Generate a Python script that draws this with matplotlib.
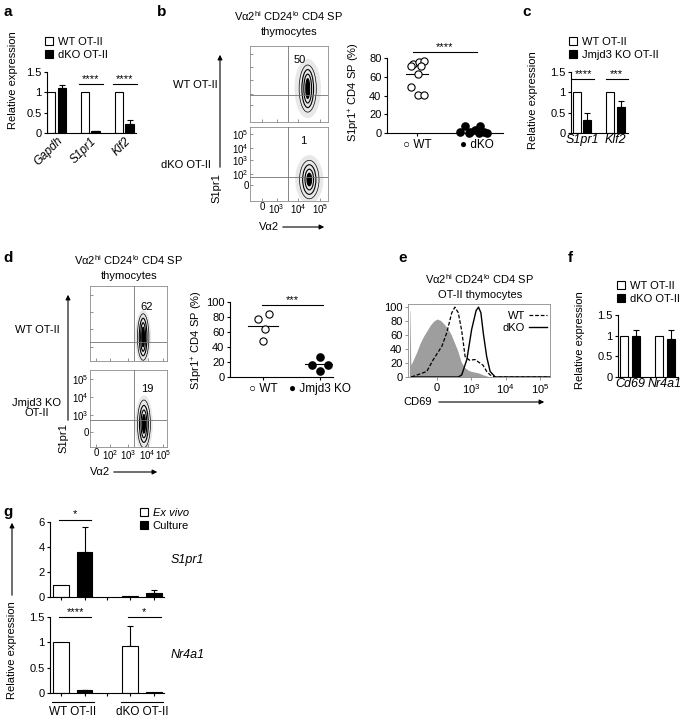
import numpy as np
import matplotlib
matplotlib.use("Agg")
import matplotlib.pyplot as plt
from matplotlib.patches import Patch, Ellipse
from matplotlib.lines import Line2D

plt.rcParams["font.family"] = ["Liberation Sans", "DejaVu Sans"]
plt.rcParams["mathtext.fontset"] = "custom"
plt.rcParams["mathtext.rm"] = "Liberation Sans"
plt.rcParams["mathtext.it"] = "Liberation Sans:italic"
plt.rcParams["font.size"] = 8
plt.rcParams["axes.linewidth"] = 0.8
for k in ["xtick", "ytick"]:
    plt.rcParams[k + ".major.width"] = 0.8
    plt.rcParams[k + ".major.size"] = 2.5
    plt.rcParams[k + ".major.pad"] = 1.5
    plt.rcParams[k + ".labelsize"] = 8

# ---------------- data ----------------
# a: relative expression, WT vs dKO OT-II
a_genes = ["Gapdh", "S1pr1", "Klf2"]
a_wt = [1.0, 1.0, 1.0]
a_dko = [1.10, 0.04, 0.22]
a_dko_err = [0.08, 0.01, 0.09]
a_stars = ["", "****", "****"]

# b: flow gates and % S1pr1+ CD4 SP
b_rows = ["WT OT-II", "dKO OT-II"]
b_gate_pct = ["50", "1"]
b_wt = [74, 76, 77, 71, 71, 63, 49, 41, 41]
b_wt_jit = [-4, 2, 7, -6, 4, 1, -6, 1, 7]
b_dko = [1, 7, 1, 3, 7, 1, 0, 0, 0]
b_dko_jit = [-17, -12, -7, -2, 3, 7, 10, -8, 2]
b_stars = "****"

# c: relative expression, WT vs Jmjd3 KO OT-II
c_genes = ["S1pr1", "Klf2"]
c_wt = [1.0, 1.0]
c_ko = [0.33, 0.65]
c_ko_err = [0.15, 0.13]
c_stars = ["****", "***"]

# d: flow gates and % S1pr1+ CD4 SP
d_rows = ["WT OT-II", "Jmjd3 KO\nOT-II"]
d_gate_pct = ["62", "19"]
d_wt = [78, 84, 64, 48]
d_wt_jit = [-5, 6, 2, 0]
d_ko = [27, 16, 16, 8]
d_ko_jit = [0, -8, 8, 0]
d_stars = "***"

# e: CD69 histograms, x in display decades (0 -> "0", 1 -> 10^3, 2 -> 10^4, 3 -> 10^5)
e_iso_x = [-0.81, -0.80, -0.79, -0.77, -0.74, -0.6, -0.5, -0.4, -0.3, -0.2, -0.1, 0.0,
           0.1, 0.2, 0.3, 0.4, 0.5, 0.6, 0.7, 0.8, 0.9, 1.0, 1.2, 1.35, 1.55, 3.3]
e_iso_y = [0, 95, 95, 18, 20, 35, 48, 58, 66, 74, 80, 83,
           81, 76, 70, 62, 50, 38, 22, 14, 10, 8, 6, 3, 0, 0]
e_wt_x = [-0.75, -0.69, -0.30, -0.11, 0.14, 0.28, 0.43, 0.52, 0.62, 0.72, 0.82,
          0.95, 1.11, 1.25, 1.34, 1.45, 1.55, 1.69, 3.3]
e_wt_y = [0, 1, 8, 25, 44, 63, 92, 100, 92, 66, 29, 24, 25, 20, 17, 8, 3, 0, 0]
e_dko_x = [-0.75, 0.62, 0.72, 0.87, 1.01, 1.14, 1.21, 1.28, 1.35, 1.45, 1.55, 1.70, 3.3]
e_dko_y = [0, 0, 3, 25, 68, 95, 100, 92, 63, 29, 8, 0, 0]
e_ticks = ["0", "$10^3$", "$10^4$", "$10^5$"]

# f: relative expression, WT vs dKO OT-II
f_genes = ["Cd69", "Nr4a1"]
f_wt = [1.0, 1.0]
f_dko = [0.98, 0.92]
f_dko_err = [0.15, 0.22]

# g: ex vivo vs culture
g_groups = ["WT OT-II", "dKO OT-II"]
g_s1_exvivo = [1.0, 0.05]
g_s1_exvivo_err = [0.0, 0.0]
g_s1_culture = [3.6, 0.35]
g_s1_culture_err = [2.0, 0.2]
g_nr_exvivo = [1.0, 0.93]
g_nr_exvivo_err = [0.0, 0.40]
g_nr_culture = [0.05, 0.01]
g_nr_culture_err = [0.01, 0.0]

# ---------------- layout helpers ----------------
W, H = 685, 718
fig = plt.figure(figsize=(W / 100, H / 100), dpi=100)


def rect(l, t, r, b):
    return [l / W, 1 - b / H, (r - l) / W, (b - t) / H]


def ftext(x, y, s, **kw):
    kw.setdefault("ha", "center")
    kw.setdefault("va", "center")
    fig.text(x / W, 1 - y / H, s, **kw)


def farrow(x0, y0, x1, y1):
    fig.add_artist(matplotlib.patches.FancyArrowPatch(
        (x0 / W, 1 - y0 / H), (x1 / W, 1 - y1 / H), transform=fig.transFigure,
        arrowstyle="-|>", mutation_scale=7, lw=0.8, color="black"))


def clean(ax):
    ax.spines["top"].set_visible(False)
    ax.spines["right"].set_visible(False)


def bars(ax, x, vals, errs, color, width):
    ax.bar(x, vals, width, color=color, edgecolor="black", linewidth=0.8, zorder=2)
    errs = np.asarray(errs, dtype=float)
    keep = errs > 0
    if keep.any():
        ax.errorbar(np.asarray(x)[keep], np.asarray(vals)[keep],
                    yerr=[np.zeros(keep.sum()), errs[keep]], fmt="none",
                    ecolor="black", elinewidth=0.8, capsize=2, capthick=0.8, zorder=1)


def sig(ax, x0, x1, y, s):
    ax.plot([x0, x1], [y, y], color="black", lw=0.8, clip_on=False)
    ax.text((x0 + x1) / 2, y, s, ha="center", va="bottom", fontsize=8)


def bar_legend(ax, labels, x, y, italic=(False, False)):
    h = [Patch(facecolor="white", edgecolor="black", lw=0.8),
         Patch(facecolor="black", edgecolor="black", lw=0.8)]
    leg = ax.legend(h, labels, loc="upper left", bbox_to_anchor=(x / W, 1 - y / H),
                    bbox_transform=fig.transFigure, frameon=False, handlelength=0.75,
                    handleheight=0.75, handletextpad=0.4, labelspacing=0.25,
                    borderpad=0, borderaxespad=0, fontsize=8)
    for t, it in zip(leg.get_texts(), italic):
        if it:
            t.set_style("italic")


def expr_axes(r, ylim, yticks, ylabels):
    ax = fig.add_axes(rect(*r))
    clean(ax)
    ax.set_ylim(*ylim)
    ax.set_yticks(yticks)
    ax.set_yticklabels(ylabels)
    return ax


def flow_box(r, gx, gy, pct, pxy, center, sizes, cloud, xt, xtl, yt, ytl):
    ax = fig.add_axes(rect(*r))
    ax.set_xlim(0, 1)
    ax.set_ylim(0, 1)
    for s in ax.spines.values():
        s.set_color("0.55")
        s.set_linewidth(0.6)
    ax.add_patch(Ellipse(center, cloud[0], cloud[1], facecolor="0.85", edgecolor="none",
                         alpha=0.6, zorder=1))
    n = len(sizes)
    for i, (w, h) in enumerate(sizes):
        last = i == n - 1
        ax.add_patch(Ellipse(center, w, h, facecolor="black" if last else "none",
                             edgecolor="black", lw=0.5 if i == 0 else 0.8, zorder=2))
    ax.axvline(gx, color="0.45", lw=0.6, zorder=3)
    ax.axhline(gy, color="0.45", lw=0.6, zorder=3)
    ax.text(pxy[0], pxy[1], pct, ha="center", va="center", fontsize=8)
    ax.set_xticks(xt)
    ax.set_yticks(yt)
    ax.tick_params(direction="in", length=2, width=0.5, color="0.4", labelsize=7, pad=1)
    ax.set_xticklabels(xtl)
    ax.set_yticklabels(ytl)
    return ax


lab = dict(fontsize=11, fontweight="bold", ha="left", va="center")
ftext(3, 12, "a", **lab)
ftext(157, 12, "b", **lab)
ftext(522, 12, "c", **lab)
ftext(3, 258, "d", **lab)
ftext(398, 258, "e", **lab)
ftext(568, 258, "f", **lab)
ftext(3, 512, "g", **lab)

e_title1 = "V\u03b12$^{\\mathrm{hi}}$ CD24$^{\\mathrm{lo}}$ CD4 SP"

# ---------------- a ----------------
ax = expr_axes((47, 72, 136, 133), (0, 1.5), [0, 0.5, 1, 1.5], ["0", "0.5", "1", "1.5"])
xa = np.arange(len(a_genes))
bars(ax, xa - 0.15, a_wt, [0] * 3, "white", 0.24)
bars(ax, xa + 0.15, a_dko, a_dko_err, "black", 0.24)
ax.set_xlim(-0.28, 2.34)
ax.set_xticks(xa)
ax.set_xticklabels(a_genes, rotation=45, ha="right", rotation_mode="anchor", style="italic",
                   fontsize=8.5)
ax.tick_params(axis="x", length=0)
for i, s in enumerate(a_stars):
    if s:
        sig(ax, i - 0.33, i + 0.36, 1.2, s)
bar_legend(ax, ["WT OT-II", "dKO OT-II"], 45, 37)
ftext(13, 80, "Relative expression", rotation=90)

# ---------------- b flow ----------------
ftext(289, 16, e_title1)
ftext(289, 32, "thymocytes")
b_xt = [0.16, 0.34, 0.62, 0.90]
b_xtl = ["0", "$10^3$", "$10^4$", "$10^5$"]
b_yt = [0.22, 0.37, 0.55, 0.72, 0.90]
b_ytl = ["0", "$10^2$", "$10^3$", "$10^4$", "$10^5$"]
flow_box((250, 46, 328, 122), 0.49, 0.36, b_gate_pct[0], (0.64, 0.82), (0.74, 0.44),
         [(0.22, 0.62), (0.15, 0.50), (0.10, 0.38), (0.05, 0.26)],
         (0.34, 0.78), b_xt, [], b_yt, [])
flow_box((250, 127, 328, 201), 0.49, 0.33, b_gate_pct[1], (0.68, 0.81), (0.76, 0.29),
         [(0.25, 0.52), (0.17, 0.40), (0.11, 0.28), (0.06, 0.17)],
         (0.36, 0.66), b_xt, b_xtl, b_yt, b_ytl)
ftext(195, 85, b_rows[0], fontsize=8)
ftext(186, 165, b_rows[1], fontsize=8)
farrow(220, 170, 220, 52)
ftext(216, 188, "S1pr1", rotation=90)
ftext(269, 227, "V\u03b12")
farrow(280, 227, 327, 227)

# ---------------- b scatter ----------------
ax = expr_axes((387, 58, 503, 133), (0, 80), [0, 20, 40, 60, 80], ["0", "20", "40", "60", "80"])
ax.set_xlim(-0.5, 1.43)
ax.plot(np.array(b_wt_jit) / 60, b_wt, "o", ms=5.2, mfc="white", mec="black", mew=0.8,
        clip_on=False, zorder=3)
ax.plot(1 + np.array(b_dko_jit) / 60, b_dko, "o", ms=5.2, mfc="black", mec="black",
        clip_on=False, zorder=3)
ax.plot([-0.18, 0.18], [np.mean(b_wt)] * 2, color="black", lw=0.8)
ax.plot([0.82, 1.18], [np.mean(b_dko)] * 2, color="black", lw=0.8)
sig(ax, -0.07, 1.0, 86, b_stars)
ax.set_xticks([0, 1])
ax.set_xticklabels(["\u25cb WT", "\u25cf dKO"], fontsize=8.5)
ftext(354, 92, "S1pr1$^{+}$ CD4 SP (%)", rotation=90)

# ---------------- c ----------------
ax = expr_axes((571, 72, 628, 133), (0, 1.5), [0, 0.5, 1, 1.5], ["0", "0.5", "1", "1.5"])
xc = np.arange(len(c_genes))
bars(ax, xc - 0.16, c_wt, [0, 0], "white", 0.24)
bars(ax, xc + 0.16, c_ko, c_ko_err, "black", 0.24)
ax.set_xlim(-0.33, 1.37)
ax.set_xticks(xc)
ax.set_xticklabels(c_genes, style="italic", fontsize=9)
ax.tick_params(axis="x", length=0, pad=0.5)
for i, s in enumerate(c_stars):
    sig(ax, i - 0.3, i + 0.37, 1.33, s)
bar_legend(ax, ["WT OT-II", "Jmjd3 KO OT-II"], 569, 37)
ftext(533, 100, "Relative expression", rotation=90)

# ---------------- d flow ----------------
ftext(129, 260, e_title1)
ftext(129, 276, "thymocytes")
d_xt = [0.08, 0.26, 0.49, 0.75, 0.95]
d_xtl = ["0", "$10^2$", "$10^3$", "$10^4$", "$10^5$"]
d_yt = [0.19, 0.42, 0.65, 0.88]
d_ytl = ["0", "$10^3$", "$10^4$", "$10^5$"]
flow_box((90, 286, 167, 361), 0.57, 0.25, d_gate_pct[0], (0.74, 0.72), (0.69, 0.32),
         [(0.15, 0.62), (0.10, 0.50), (0.065, 0.38), (0.035, 0.26)],
         (0.21, 0.72), d_xt, [], d_yt, [])
flow_box((90, 370, 167, 447), 0.57, 0.35, d_gate_pct[1], (0.74, 0.75), (0.70, 0.30),
         [(0.17, 0.62), (0.115, 0.48), (0.075, 0.36), (0.04, 0.24)],
         (0.23, 0.74), d_xt, d_xtl, d_yt, d_ytl)
ftext(37, 330, d_rows[0], fontsize=8)
ftext(37, 408, d_rows[1], fontsize=8, linespacing=1.1)
farrow(68, 423, 68, 292)
ftext(63, 438, "S1pr1", rotation=90)
ftext(100, 472, "V\u03b12")
farrow(111, 472, 160, 472)

# ---------------- d scatter ----------------
ax = expr_axes((230, 302, 333, 377), (0, 100), [0, 20, 40, 60, 80, 100],
               ["0", "20", "40", "60", "80", "100"])
ax.set_xlim(-0.58, 1.23)
ax.plot(np.array(d_wt_jit) / 57, d_wt, "o", ms=5.2, mfc="white", mec="black", mew=0.8,
        clip_on=False, zorder=3)
ax.plot(1 + np.array(d_ko_jit) / 57, d_ko, "o", ms=5.2, mfc="black", mec="black",
        clip_on=False, zorder=3)
ax.plot([-0.26, 0.26], [np.mean(d_wt)] * 2, color="black", lw=0.8)
ax.plot([0.74, 1.26], [np.mean(d_ko)] * 2, color="black", lw=0.8)
sig(ax, -0.02, 1.05, 96, d_stars)
ax.set_xticks([0, 1])
ax.set_xticklabels(["\u25cb WT", "\u25cf Jmjd3 KO"], fontsize=8.5)
ftext(197, 340, "S1pr1$^{+}$ CD4 SP (%)", rotation=90)

# ---------------- e ----------------
ftext(480, 279, e_title1)
ftext(480, 295, "OT-II thymocytes")
ax = fig.add_axes(rect(408, 304, 550, 377))
for s in ax.spines.values():
    s.set_color("0.55")
    s.set_linewidth(0.6)
ax.fill_between(e_iso_x, e_iso_y, color="0.62", lw=0)
ax.plot(e_wt_x, e_wt_y, color="black", lw=0.9, dashes=(3, 1.5))
ax.plot(e_dko_x, e_dko_y, color="black", lw=1.0)
ax.set_xlim(-0.85, 3.3)
ax.set_ylim(0, 104.5)
ax.set_yticks([0, 20, 40, 60, 80, 100])
ax.set_xticks(range(len(e_ticks)))
ax.set_xticklabels(e_ticks)
ax.tick_params(length=2, width=0.5, color="0.4", pad=2)
h = [Line2D([], [], color="black", lw=0.9, dashes=(3, 1.5)), Line2D([], [], color="black", lw=1.0)]
ax.legend(h, ["WT", "dKO"], loc="upper right", bbox_to_anchor=(547 / W, 1 - 311 / H),
          bbox_transform=fig.transFigure, frameon=False, markerfirst=False,
          handlelength=1.6, handletextpad=0.4, labelspacing=0.2, borderpad=0,
          borderaxespad=0, fontsize=8)
ftext(403, 402, "CD69", ha="left")
farrow(436, 402, 547, 402)

# ---------------- f ----------------
ax = expr_axes((618, 315, 678, 377), (0, 1.5), [0, 0.5, 1, 1.5], ["0", "0.5", "1", "1.5"])
xf = np.arange(len(f_genes))
bars(ax, xf - 0.17, f_wt, [0, 0], "white", 0.23)
bars(ax, xf + 0.17, f_dko, f_dko_err, "black", 0.23)
ax.set_xlim(-0.34, 1.37)
ax.set_xticks(xf)
ax.set_xticklabels(f_genes, style="italic", fontsize=9)
ax.tick_params(axis="x", length=0, pad=0.5)
bar_legend(ax, ["WT OT-II", "dKO OT-II"], 617, 281)
ftext(580, 340, "Relative expression", rotation=90)

# ---------------- g ----------------
xg = np.arange(len(g_groups))
ax1 = expr_axes((50, 522, 164, 597), (0, 6), [0, 2, 4, 6], ["0", "2", "4", "6"])
bars(ax1, xg - 0.17, g_s1_exvivo, g_s1_exvivo_err, "white", 0.23)
bars(ax1, xg + 0.17, g_s1_culture, g_s1_culture_err, "black", 0.23)
ax1.set_xlim(-0.33, 1.32)
ax1.set_xticks([-0.17, 0.17, 0.5, 0.83, 1.17])
ax1.set_xticklabels([])
sig(ax1, -0.2, 0.27, 6.2, "*")
ax1.text(1.42, 3.0, "S1pr1", style="italic", fontsize=9, va="center", ha="left")

ax2 = expr_axes((50, 617, 164, 693), (0, 1.5), [0, 0.5, 1, 1.5], ["0", "0.5", "1", "1.5"])
bars(ax2, xg - 0.17, g_nr_exvivo, g_nr_exvivo_err, "white", 0.23)
bars(ax2, xg + 0.17, g_nr_culture, g_nr_culture_err, "black", 0.23)
ax2.set_xlim(-0.33, 1.32)
ax2.set_xticks([-0.17, 0.17, 0.5, 0.83, 1.17])
ax2.set_xticklabels([])
sig(ax2, -0.2, 0.27, 1.5, "****")
sig(ax2, 0.8, 1.27, 1.5, "*")
ax2.text(1.42, 0.75, "Nr4a1", style="italic", fontsize=9, va="center", ha="left")
for i, g in enumerate(g_groups):
    ax2.plot([i - 0.3, i + 0.3], [-0.17, -0.17], color="black", lw=0.8, clip_on=False)
    ax2.text(i, -0.25, g, ha="center", va="top", fontsize=8.5)
bar_legend(ax1, ["Ex vivo", "Culture"], 140, 508, italic=(True, False))
ftext(12, 650, "Relative expression", rotation=90)
farrow(12, 598, 12, 520)

fig.savefig("out.png", dpi=100)
